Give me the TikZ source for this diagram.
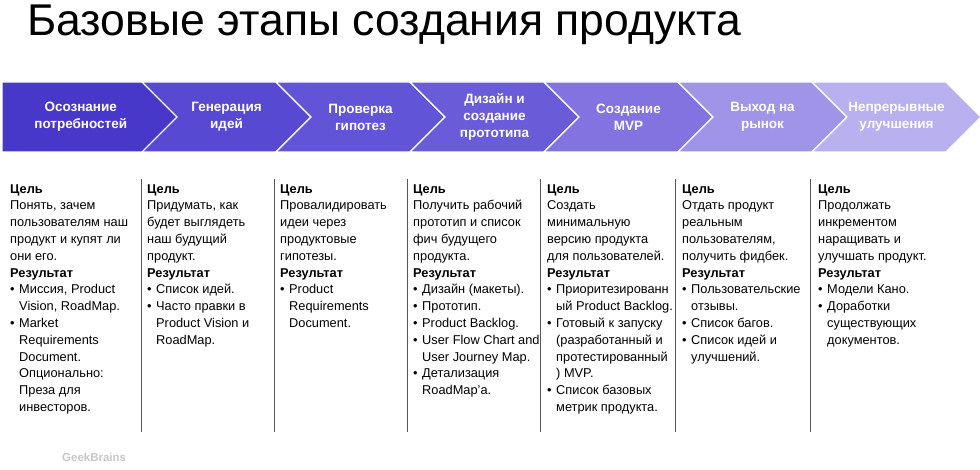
\documentclass[tikz,border=0pt]{standalone}
\usepackage{fontspec}
\setmainfont{Liberation Sans}
\usetikzlibrary{shapes.symbols, positioning}

\definecolor{stageA}{RGB}{72,56,201}
\definecolor{stageB}{RGB}{88,73,210}
\definecolor{stageC}{RGB}{98,84,214}
\definecolor{stageD}{RGB}{106,92,216}
\definecolor{stageE}{RGB}{130,115,225}
\definecolor{stageF}{RGB}{160,148,232}
\definecolor{stageG}{RGB}{185,176,240}
\definecolor{sepline}{RGB}{85,85,100}

\newcommand{\blt}{\makebox[9pt][l]{\textbullet}}
\newcommand{\ind}{\hspace*{9pt}}

\begin{document}
\begin{tikzpicture}[x=1pt, y=-1pt,
    stage/.style={signal, signal to=east, signal from=west, signal pointer angle=90,
      draw=white, line width=1.2pt, minimum height=70pt, minimum width=169pt, inner sep=0pt,
      text=white, align=center, font=\fontsize{13.5}{17}\selectfont\bfseries},
    col/.style={anchor=north west, inner sep=0pt, align=left,
      font=\fontsize{12.8}{16.8}\selectfont},
    sep/.style={draw=sepline, line width=1.3pt}
  ]
  \useasboundingbox (0,0) rectangle (980,470);

  \node[anchor=base west, inner sep=0pt, font=\fontsize{44.5}{50}\selectfont] (title) at (27,36) {Базовые этапы создания продукта};

  % chevrons
  \node[stage, signal from=nowhere, minimum width=192.5pt, fill=stageA] (s1) at (80.75,117) {Осознание\\потребностей};
  \node[stage, fill=stageB] (s2) at (226.5,117) {Генерация\\идей};
  \node[stage, fill=stageC] (s3) at (360.5,117) {Проверка\\гипотез};
  \node[stage, fill=stageD] (s4) at (494.5,117) {Дизайн и\\создание\\прототипа};
  \node[stage, fill=stageE] (s5) at (628.5,117) {Создание\\MVP};
  \node[stage, fill=stageF] (s6) at (762.5,117) {Выход на\\рынок};
  \node[stage, fill=stageG] (s7) at (896.5,117) {Непрерывные\\улучшения};

  % columns
  \foreach \x in {141.5, 274.5, 407.5, 540.5, 675.5, 810.5}
    \draw[sep] (\x,179) -- (\x,432);

  \node[col] (c1) at (10,184) {\textbf{Цель}\\Понять, зачем\\пользователям наш\\продукт и купят ли\\они его.\\\textbf{Результат}\\\blt Миссия, Product\\\ind Vision, RoadMap.\\\blt Market\\\ind Requirements\\\ind Document.\\\ind Опционально:\\\ind Преза для\\\ind инвесторов.};
  \node[col] (c2) at (147,184) {\textbf{Цель}\\Придумать, как\\будет выглядеть\\наш будущий\\продукт.\\\textbf{Результат}\\\blt Список идей.\\\blt Часто правки в\\\ind Product Vision и\\\ind RoadMap.};
  \node[col] (c3) at (280,184) {\textbf{Цель}\\Провалидировать\\идеи через\\продуктовые\\гипотезы.\\\textbf{Результат}\\\blt Product\\\ind Requirements\\\ind Document.};
  \node[col] (c4) at (413,184) {\textbf{Цель}\\Получить рабочий\\прототип и список\\фич будущего\\продукта.\\\textbf{Результат}\\\blt Дизайн (макеты).\\\blt Прототип.\\\blt Product Backlog.\\\blt User Flow Chart and\\\ind User Journey Map.\\\blt Детализация\\\ind RoadMap’a.};
  \node[col] (c5) at (547,184) {\textbf{Цель}\\Создать\\минимальную\\версию продукта\\для пользователей.\\\textbf{Результат}\\\blt Приоритезированн\\\ind ый Product Backlog.\\\blt Готовый к запуску\\\ind (разработанный и\\\ind протестированный\\\ind ) MVP.\\\blt Список базовых\\\ind метрик продукта.};
  \node[col] (c6) at (682,184) {\textbf{Цель}\\Отдать продукт\\реальным\\пользователям,\\получить фидбек.\\\textbf{Результат}\\\blt Пользовательские\\\ind отзывы.\\\blt Список багов.\\\blt Список идей и\\\ind улучшений.};
  \node[col] (c7) at (818,184) {\textbf{Цель}\\Продолжать\\инкрементом\\наращивать и\\улучшать продукт.\\\textbf{Результат}\\\blt Модели Кано.\\\blt Доработки\\\ind существующих\\\ind документов.};

  \node[anchor=west, inner sep=0pt, text=black!22, font=\fontsize{11.5}{14}\selectfont\bfseries] (brand) at (62,457) {GeekBrains};
\end{tikzpicture}
\end{document}
